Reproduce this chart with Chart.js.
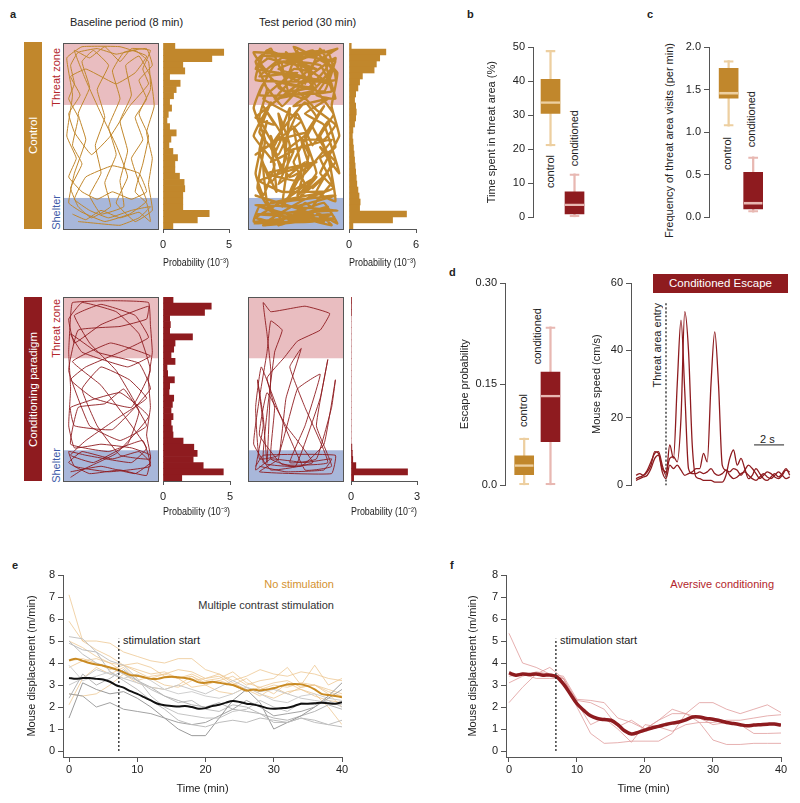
<!DOCTYPE html>
<html>
<head>
<meta charset="utf-8">
<title>Threat zone behaviour</title>
<script src="https://cdn.jsdelivr.net/npm/chart.js@4.4.1/dist/chart.umd.min.js"></script>
<style>
body { margin: 0; width: 800px; height: 803px; position: relative; overflow: hidden; background: #fff;
       font-family: "Liberation Sans", Arial, Helvetica, sans-serif; font-size: 11px; color: #222; }
canvas { position: absolute; }
.t { position: absolute; white-space: nowrap; line-height: 13px; }
.b { font-weight: bold; }
.v { position: absolute; white-space: nowrap; line-height: 13px; writing-mode: vertical-rl; transform: rotate(180deg); }
.bar { position: absolute; width: 18px; writing-mode: vertical-rl; transform: rotate(180deg);
       text-align: center; line-height: 18px; color: #fff; font-size: 11.5px; white-space: nowrap; }
.banner { position: absolute; left: 653px; top: 274px; width: 135px; height: 19px; line-height: 19px;
          background: #8E1B1F; color: #fff; text-align: center; font-size: 11.5px; }
</style>
</head>
<body>

<div class="t b" style="left:10px;top:8px">a</div>
<div class="t" style="left:70px;top:16px">Baseline period (8 min)</div>
<div class="t" style="left:259px;top:16px">Test period (30 min)</div>
<div class="bar" style="left:24px;top:42px;height:187px;background:#C1872C">Control</div>
<div class="bar" style="left:24px;top:297px;height:184px;background:#8E1B1F">Conditioning paradigm</div>
<div class="v" style="left:50px;top:48px;color:#B3262B">Threat zone</div>
<div class="v" style="left:50px;top:195px;color:#3E5BA9">Shelter</div>
<div class="v" style="left:50px;top:299px;color:#B3262B">Threat zone</div>
<div class="v" style="left:50px;top:448px;color:#3E5BA9">Shelter</div>

<div class="t b" style="left:467px;top:8px">b</div>
<div class="v" style="left:544px;top:155px">control</div>
<div class="v" style="left:568px;top:110px">conditioned</div>
<div class="t b" style="left:647px;top:8px">c</div>
<div class="v" style="left:663px;top:43px">Frequency of threat area visits (per min)</div>
<div class="v" style="left:721px;top:137px">control</div>
<div class="v" style="left:745px;top:91px">conditioned</div>

<div class="t b" style="left:449px;top:266px">d</div>
<div class="v" style="left:517px;top:394px">control</div>
<div class="v" style="left:531px;top:308px">conditioned</div>
<div class="banner">Conditioned Escape</div>
<div class="v" style="left:651px;top:303px">Threat area entry</div>
<div class="t" style="left:760px;top:433px">2 s</div>

<div class="t b" style="left:12px;top:559px">e</div>
<div class="t" style="right:466px;top:578px;color:#D4922F">No stimulation</div>
<div class="t" style="right:466px;top:599px;color:#333">Multiple contrast stimulation</div>
<div class="t" style="left:123px;top:634px">stimulation start</div>
<div class="t b" style="left:450px;top:559px">f</div>
<div class="t" style="right:26px;top:578px;color:#B3262B">Aversive conditioning</div>
<div class="t" style="left:560px;top:634px">stimulation start</div>

<script>
// ---------- data ----------
// arena zones (arena units: x 0-50, y 0-100, threat at the top)
const threatZone = [66.7, 100];
const shelterZone = [0, 16.7];

// trajectories, flat x,y pairs
const trackCtrlBase = [5,8, 12,5, 20,10, 30,6, 40,9, 46,4, 44,14, 38,20, 42,35, 45,50, 40,62, 46,75, 45,90, 38,96, 28,94,
  18,97, 8,95, 4,88, 6,78, 3,70, 8,60, 5,45, 10,35, 4,22, 8,12, 15,6, 25,12, 22,25, 28,40, 24,55, 30,70, 26,85, 32,95,
  44,97, 47,88, 40,80, 44,70, 38,60, 42,48, 36,38, 40,25, 44,15, 35,8, 22,4, 10,9, 3,14, 6,30, 12,48, 8,62, 14,76, 10,90,
  16,96, 24,88, 18,75, 22,60, 17,45, 20,30, 14,18, 20,8, 32,12, 30,26, 34,42, 30,58, 36,72, 33,88, 40,93, 46,82, 48,66,
  44,52, 47,38, 45,24, 47,10, 38,4, 28,14, 34,28, 28,45, 20,62, 12,80, 6,96, 14,92, 22,98, 30,90, 36,97, 46,96, 42,86,
  45,78, 35,66, 25,50, 15,40, 6,52, 3,62, 9,72, 4,82, 12,86, 20,82, 28,78, 38,84, 44,93, 30,98, 10,98, 2,92, 5,72, 2,50,
  7,38, 3,28, 10,20, 18,16, 26,20, 36,16, 44,20, 40,30, 26,34, 12,28, 6,16, 14,10, 24,6, 36,10, 46,12, 40,6, 30,2, 18,3, 8,4];
const trackCtrlTest = [3,3, 45,5, 5,8, 47,10, 4,13, 44,2, 30,14, 20,3, 10,15, 8,35, 15,20, 12,50, 18,30, 22,65, 14,45,
  6,60, 10,75, 4,90, 12,97, 20,80, 26,96, 30,78, 38,97, 44,85, 36,72, 46,70, 40,92, 47,97, 30,92, 8,93, 4,80, 46,80,
  42,95, 14,88, 6,72, 44,74, 38,88, 18,90, 22,72, 34,84, 24,86, 16,76, 30,70, 46,90, 3,95, 10,85, 40,80, 28,88, 20,95,
  45,62, 38,50, 44,35, 36,20, 46,15, 42,40, 34,55, 40,66, 30,50, 36,30, 26,18, 32,40, 24,55, 28,30, 18,12, 22,45, 16,62,
  20,38, 12,25, 6,42, 10,58, 4,30, 8,18, 14,35, 3,50, 12,68, 6,52, 16,40, 26,62, 34,45, 42,58, 46,44, 38,38, 44,25, 34,12,
  40,4, 26,8, 14,4, 4,6, 20,16, 30,24, 24,36, 36,60, 30,68, 20,56, 12,44, 22,28, 32,34, 28,48, 40,48, 46,56, 36,64, 26,74,
  18,66, 8,78, 3,65, 9,48, 5,22, 12,10, 25,4, 38,8, 47,3, 40,14, 28,10, 16,8, 6,12, 3,4, 22,6, 44,8, 34,4, 10,4, 30,16,
  45,22, 38,30, 48,50, 44,66, 47,84, 34,96, 22,92, 10,96, 4,86, 16,84, 26,80, 36,90, 44,95, 28,94, 14,94, 6,88, 20,74,
  32,76, 42,88, 24,98, 36,76, 12,80, 40,74, 46,92, 4,60, 14,56, 8,66, 18,50, 12,36, 24,42, 16,24, 30,36, 22,20, 36,28,
  28,18, 42,30, 34,22, 46,36, 38,44, 48,30, 40,56, 30,62, 42,70, 24,66, 34,74, 14,70, 26,84, 6,82, 18,92, 36,86, 10,92,
  40,96, 16,86, 44,78, 22,82, 8,70, 28,58, 4,40, 16,48, 32,52, 20,42, 44,48, 26,26, 10,30, 36,36, 6,26, 18,20, 40,20,
  12,14, 46,18, 24,12, 4,18, 34,8, 16,2, 42,12, 8,2, 28,4, 46,6];
const trackCondBase = [4,5, 20,8, 38,4, 46,10, 40,16, 26,12, 10,16, 3,10, 14,4, 30,6, 44,3, 46,14, 36,18, 20,20, 6,18,
  3,30, 4,50, 3,70, 4,90, 5,97, 25,98, 45,97, 46,85, 47,70, 45,55, 46,40, 44,25, 46,12, 30,14, 18,30, 10,50, 20,62, 35,55,
  44,45, 30,35, 12,22, 4,14, 16,10, 34,20, 40,38, 28,60, 14,75, 6,90, 20,96, 38,90, 45,78, 30,70, 12,62, 4,55, 16,45,
  36,40, 46,60, 40,80, 28,92, 10,97, 3,88, 6,75, 20,85, 45,95, 44,88, 30,84, 8,82, 3,60, 14,30, 30,22, 44,30, 32,50, 22,42,
  8,40, 4,20, 24,16, 42,22, 46,8, 24,5, 6,8, 3,16, 12,14, 36,10, 44,18, 20,52, 5,65, 25,75, 46,68, 34,62, 10,70, 4,80,
  18,70, 40,64, 46,50, 26,28, 6,30, 4,40, 30,48, 45,35, 28,15, 10,6, 4,2];
const trackCondTest = [6,8, 20,5, 40,6, 44,12, 30,10, 12,12, 4,6, 8,30, 5,55, 8,35, 10,10, 12,60, 10,80, 8,97, 12,92,
  30,95, 43,91, 38,82, 26,76, 19,67, 10,56, 14,40, 12,12, 25,8, 38,45, 42,66, 36,30, 44,8, 30,6, 16,38, 7,62, 4,40, 6,12,
  16,14, 26,50, 38,58, 30,30, 22,10, 36,12, 44,40, 46,55, 40,20, 28,8, 8,10, 14,70, 18,82, 12,87, 10,70, 6,45, 3,20, 12,6,
  34,10, 20,30, 10,48, 6,25, 18,9, 42,10, 30,40, 22,62, 28,72, 20,45, 16,12, 6,5, 44,4, 46,14, 8,14, 4,8];

// position histograms, top bin first
const histCtrlBase = [0.9, 4.6, 3.7, 1.5, 1.65, 0.5, 1.3, 1.0, 0.8, 0.5, 0.65, 0.4, 0.3, 0.5, 1.0, 0.6, 0.45, 0.75, 1.1,
  0.9, 0.9, 1.25, 1.6, 1.65, 1.5, 1.5, 1.5, 3.5, 2.6, 0.75];
const histCtrlTest = [0.2, 3.3, 2.75, 2.45, 2.25, 1.2, 0.95, 0.8, 0.6, 0.5, 0.6, 0.65, 0.6, 0.5, 0.35, 0.3, 0.35, 0.4,
  0.45, 0.5, 0.55, 0.6, 0.65, 0.7, 0.8, 0.9, 1.0, 0.95, 5.15, 3.9, 0.35];
const histCondBase = [0.75, 3.6, 3.1, 0.5, 0.55, 0.5, 2.2, 0.9, 0.8, 0.6, 0.9, 0.3, 0.35, 0.85, 0.5, 0.45, 0.8, 0.7,
  0.6, 0.75, 0.6, 0.7, 0.75, 1.5, 2.3, 2.55, 2.25, 3.0, 4.5, 1.4];
const histCondTest = [0.03, 0.02, 0.02, 0, 0, 0, 0, 0, 0, 0, 0, 0, 0, 0, 0, 0, 0, 0, 0, 0, 0, 0, 0, 0, 0.04, 0.06, 0.08,
  0.22, 2.57, 0.12];

// box plots: control, conditioned
const groups = ['control', 'conditioned'];
const timeMin = [21, 0], timeQ1 = [30.5, 1], timeMed = [34, 4], timeQ3 = [40.5, 7.5], timeMax = [49, 12.8];
const freqMin = [1.07, 0.06], freqQ1 = [1.4, 0.1], freqMed = [1.47, 0.18], freqQ3 = [1.75, 0.53], freqMax = [1.84, 0.71];
const escMin = [0, 0], escQ1 = [0.016, 0.065], escMed = [0.031, 0.134], escQ3 = [0.044, 0.168], escMax = [0.07, 0.235];
const timeTicks = [0, 10, 20, 30, 40, 50];
const freqTicks = [0, 0.5, 1, 1.5, 2];
const escTicks = [0, 0.15, 0.3];
const escTickText = ['0.0', '0.15', '0.30'];

// escape speed traces (s relative to threat area entry)
const speedTime = [-2, -1.75, -1.5, -1.25, -1, -0.75, -0.5, -0.25, 0, 0.25, 0.5, 0.75, 1, 1.25, 1.5, 1.75, 2, 2.25, 2.5,
  2.75, 3, 3.25, 3.5, 3.75, 4, 4.25, 4.5, 4.75, 5, 5.25, 5.5, 5.75, 6, 6.25, 6.5, 6.75, 7, 7.25, 7.5, 7.75, 8, 8.25];
const speedA = [2, 2.5, 3, 4.5, 7, 9.5, 10, 6, 3, 12, 8, 30, 49, 28, 5, 3.5, 3.5, 4, 3.5, 4, 5, 3.5, 3, 3.5, 4.5, 3, 2,
  2.5, 3.5, 4, 3, 2, 1.5, 2.5, 3.5, 2.5, 2, 3, 4, 3, 2, 2.5];
const speedB = [1.5, 2, 2.5, 3, 5, 8, 9, 5, 4, 8, 8.5, 7, 20, 51.5, 40, 12, 2.5, 2, 1.5, 1.5, 1.5, 1, 1, 1, 3, 8, 10.5,
  6, 8, 5, 2, 3, 5, 3.5, 2, 1.5, 2.5, 3.5, 2.5, 3.5, 5, 3];
const speedC = [3, 3.5, 3, 4, 6, 10, 9.5, 4, 2, 6, 5, 6, 4.5, 3, 3.5, 4, 5, 5, 9.5, 7, 30, 45.5, 30, 6, 4.5, 4, 5, 4.5,
  3, 4.5, 6, 5, 3.5, 2, 3, 4, 3.5, 2.5, 2, 3, 4.5, 4];
const speedTicks = [0, 20, 40, 60];
const entryTime = 0, entryTop = 54.5;
const scaleBarFrom = 5.87, scaleBarTo = 7.87, scaleBarY = 12;

// displacement over time (m/min)
const minutes = [0, 1, 2, 3, 4, 5, 6, 7, 8, 9, 10, 11, 12, 13, 14, 15, 16, 17, 18, 19, 20, 21, 22, 23, 24, 25, 26, 27,
  28, 29, 30, 31, 32, 33, 34, 35, 36, 37, 38, 39, 40];
const minutes2 = [0, 2, 4, 6, 8, 10, 12, 14, 16, 18, 20, 22, 24, 26, 28, 30, 32, 34, 36, 38, 40];
const noStimMean = [4.12, 4.2, 4.1, 4.0, 3.93, 3.88, 3.8, 3.7, 3.58, 3.45, 3.42, 3.35, 3.28, 3.28, 3.35, 3.38, 3.35, 3.32,
  3.25, 3.12, 3.1, 3.15, 3.1, 3.05, 3.0, 2.88, 2.75, 2.8, 2.75, 2.8, 2.85, 2.95, 3.02, 3.05, 3.03, 2.95, 2.8, 2.6, 2.55, 2.5, 2.45];
const contrastMean = [3.32, 3.28, 3.32, 3.32, 3.28, 3.25, 3.15, 2.98, 2.88, 2.72, 2.6, 2.45, 2.3, 2.15, 2.08, 2.05, 2.02,
  2.05, 2.0, 1.92, 1.95, 2.05, 2.1, 2.2, 2.27, 2.23, 2.15, 2.12, 2.05, 1.95, 1.92, 1.95, 1.97, 2.05, 2.15, 2.15, 2.17, 2.2,
  2.17, 2.15, 2.22];
const noStimMice = [
  [7.1, 5.0, 5.0, 4.9, 4.5, 4.3, 4.1, 4.0, 4.2, 4.2, 3.7, 3.5, 3.2, 3.4, 3.7, 3.5, 3.4, 3.6, 3.5, 3.3, 3.2],
  [5.9, 5.0, 4.6, 4.3, 3.9, 3.7, 3.5, 3.6, 3.3, 3.4, 3.0, 3.2, 3.4, 3.0, 3.2, 3.3, 3.8, 3.0, 3.9, 3.0, 3.3],
  [5.0, 4.7, 4.3, 4.0, 3.6, 3.4, 3.3, 3.0, 2.9, 3.2, 3.3, 3.5, 3.1, 2.8, 2.5, 2.9, 2.6, 2.9, 3.0, 2.6, 2.0],
  [2.1, 3.3, 3.8, 3.5, 3.8, 3.2, 3.4, 3.5, 3.3, 2.9, 3.0, 2.7, 2.6, 2.9, 2.6, 2.4, 2.7, 2.8, 2.6, 2.0, 1.2],
  [3.8, 4.1, 4.2, 4.0, 3.9, 3.6, 3.3, 3.5, 3.7, 3.6, 3.3, 3.4, 3.0, 3.3, 2.8, 3.0, 2.9, 3.1, 3.0, 2.7, 2.5],
  [2.6, 2.5, 2.6, 3.0, 3.5, 3.1, 2.9, 2.8, 3.0, 3.4, 3.1, 3.2, 3.0, 2.7, 2.9, 2.6, 3.1, 2.8, 2.5, 2.3, 2.2],
  [4.1, 4.2, 4.0, 3.7, 3.9, 4.0, 3.8, 3.4, 3.3, 3.5, 3.2, 3.3, 3.6, 3.1, 2.9, 3.1, 3.2, 2.9, 3.0, 2.8, 2.6]
];
const contrastMice = [
  [5.2, 5.1, 4.5, 4.1, 3.9, 3.3, 2.5, 2.0, 1.7, 1.6, 1.5, 1.5, 1.8, 1.9, 2.3, 2.0, 1.8, 2.2, 2.1, 2.3, 2.0],
  [4.9, 4.6, 4.5, 3.6, 3.2, 2.8, 2.3, 1.9, 1.4, 1.2, 1.1, 1.3, 1.4, 1.3, 1.5, 1.4, 1.3, 1.5, 1.4, 1.2, 1.1],
  [1.5, 3.1, 2.8, 2.6, 2.7, 2.4, 2.0, 1.5, 1.0, 0.7, 0.7, 1.5, 2.3, 2.8, 2.2, 1.0, 1.3, 1.6, 2.0, 2.5, 3.1],
  [2.6, 2.5, 2.0, 2.2, 1.9, 1.8, 1.7, 1.5, 1.3, 1.2, 1.3, 1.6, 1.9, 2.3, 2.0, 1.6, 1.7, 1.8, 2.0, 2.4, 2.8],
  [3.9, 3.2, 3.4, 3.6, 3.3, 3.5, 3.2, 2.8, 2.6, 2.7, 2.5, 2.4, 2.6, 2.9, 2.6, 2.3, 2.2, 2.5, 2.6, 2.4, 2.3],
  [3.0, 3.3, 3.7, 3.5, 3.3, 3.1, 2.9, 2.8, 3.0, 2.8, 2.6, 2.9, 3.2, 2.9, 2.7, 2.8, 2.6, 2.4, 2.3, 2.2, 2.1],
  [2.4, 3.5, 3.0, 3.3, 3.7, 3.2, 2.9, 2.5, 2.3, 2.1, 2.0, 2.2, 1.9, 1.8, 1.7, 1.5, 1.4, 1.6, 1.8, 2.1, 1.9],
  [5.0, 4.4, 4.0, 3.8, 3.5, 3.2, 2.8, 2.5, 2.2, 2.3, 1.9, 1.8, 2.1, 2.0, 1.7, 1.3, 1.3, 1.5, 1.3, 1.2, 1.4]
];
const aversiveMean = [3.55, 3.45, 3.5, 3.48, 3.5, 3.45, 3.45, 3.38, 3.05, 2.6, 2.15, 1.85, 1.6, 1.48, 1.43, 1.4, 1.2, 0.92,
  0.78, 0.85, 0.95, 1.05, 1.12, 1.2, 1.27, 1.32, 1.42, 1.55, 1.55, 1.48, 1.45, 1.38, 1.3, 1.25, 1.2, 1.15, 1.18, 1.2, 1.22,
  1.23, 1.18];
const aversiveMice = [
  [5.35, 4.0, 3.8, 3.5, 3.4, 2.35, 2.3, 2.2, 1.5, 1.3, 1.0, 1.4, 1.7, 1.7, 2.2, 2.2, 1.9, 1.7, 1.9, 2.1, 1.75],
  [3.1, 3.4, 3.6, 3.5, 3.3, 2.3, 2.2, 1.9, 1.1, 1.4, 1.0, 1.4, 1.9, 1.7, 1.3, 1.3, 1.4, 1.4, 1.5, 1.6, 1.65],
  [2.2, 2.9, 3.5, 3.8, 3.3, 2.2, 1.2, 1.5, 1.0, 0.4, 1.2, 1.1, 0.9, 1.2, 1.3, 0.5, 0.3, 0.3, 0.35, 0.35, 0.35],
  [3.4, 3.5, 3.3, 3.3, 3.3, 2.0, 0.8, 0.35, 0.38, 0.45, 0.45, 0.45, 0.8, 1.7, 1.5, 1.2, 1.3, 1.2, 0.8, 0.8, 0.82]
];
const timeTicksMin = [0, 10, 20, 30, 40];
const dispTicks = [0, 1, 2, 3, 4, 5, 6, 7, 8];
const stimStartE = 7.3, stimStartF = 6.9, stimTop = 5.1;

// ---------- style ----------
const GOLD = '#C1872C', GOLD_LT = '#EDCFA0', RED = '#8E1B1F', RED_LT = '#E8B8B2';
const PINK = '#E9BDC0', BLUE = '#A8B7DA', AXIS = '#555';

Chart.defaults.font.family = '"Liberation Sans", Arial, Helvetica, sans-serif';
Chart.defaults.font.size = 11;
Chart.defaults.color = '#222';
Chart.defaults.animation = false;
Chart.defaults.responsive = false;
Chart.defaults.devicePixelRatio = 1;
Chart.defaults.plugins.legend.display = false;
Chart.defaults.plugins.tooltip.enabled = false;

function canvasAt(left, top, w, h) {
  const c = document.createElement('canvas');
  c.width = w; c.height = h;
  c.style.left = left + 'px'; c.style.top = top + 'px';
  document.body.appendChild(c);
  return c;
}
function pairs(flat) {
  const out = [];
  for (let i = 0; i < flat.length; i += 2) out.push({x: flat[i], y: flat[i + 1]});
  return out;
}
function xy(xs, ys) { return ys.map((v, i) => ({x: xs[i], y: v})); }
const ticksAt = arr => s => { s.ticks = arr.map(v => ({value: v})); };
const tickGrid = len => ({display: true, drawOnChartArea: false, drawTicks: true, tickLength: len, color: AXIS});

// pink threat zone and blue shelter behind the track
const zonePlugin = {
  id: 'zones',
  beforeDraw(chart) {
    const {ctx, chartArea: a, scales: {y}} = chart;
    [[threatZone, PINK], [shelterZone, BLUE]].forEach(([range, color]) => {
      const top = y.getPixelForValue(range[1]), bottom = y.getPixelForValue(range[0]);
      ctx.save();
      ctx.fillStyle = color;
      ctx.fillRect(a.left, top, a.right - a.left, bottom - top);
      ctx.restore();
    });
  }
};

function arenaChart(el, track, color, width) {
  const frame = (pos, extra) => Object.assign({
    type: 'linear', position: pos,
    grid: {display: false}, ticks: {display: false},
    border: {display: true, color: AXIS, width: 1},
    afterFit: s => { if (s.isHorizontal()) s.height = 0; else s.width = 0; }
  }, extra);
  return new Chart(el, {
    type: 'scatter',
    data: {datasets: [{data: pairs(track), showLine: true, borderColor: color, borderWidth: width,
      pointRadius: 0, tension: 0.1}]},
    options: {
      layout: {padding: 1},
      scales: {
        x: frame('bottom', {min: 0, max: 50}),
        xTop: frame('top', {axis: 'x', min: 0, max: 50}),
        y: frame('left', {min: 0, max: 100}),
        yRight: frame('right', {axis: 'y', min: 0, max: 100})
      }
    },
    plugins: [zonePlugin]
  });
}

function histChart(el, vals, max, color, title, padL, padR, axisH, tickPad) {
  return new Chart(el, {
    type: 'bar',
    data: {labels: vals.map((v, i) => i),
      datasets: [{data: vals, backgroundColor: color, barPercentage: 1, categoryPercentage: 1, borderWidth: 0}]},
    options: {
      indexAxis: 'y',
      layout: {padding: {left: padL, right: padR, top: 0, bottom: 0}},
      scales: {
        y: {display: false},
        x: {type: 'linear', min: 0, max: max, afterBuildTicks: ticksAt([0, max]),
          grid: tickGrid(4), border: {color: AXIS}, ticks: {padding: tickPad, maxRotation: 0},
          title: {display: true, text: title, padding: {top: 2, bottom: 4}},
          afterFit: s => { s.height = axisH; }}
      }
    }
  });
}

function boxChart(el, mn, q1, med, q3, mx, yMax, ticks, tickFmt, title, axisW, xMin, xMax, padR) {
  const pos = [1, 2];
  const span = (lo, hi) => lo.map((v, i) => ({x: pos[i], y: [v, hi[i]]}));
  return new Chart(el, {
    type: 'bar',
    data: {datasets: [
      {data: span(q1, med), backgroundColor: 'rgba(0,0,0,0)', borderColor: [GOLD_LT, RED_LT],
        borderWidth: {top: 2, bottom: 0, left: 0, right: 0}, borderSkipped: false, barThickness: 19},
      {data: span(q1, q3), backgroundColor: [GOLD, RED], barThickness: 19},
      {data: span(mn, mx), backgroundColor: [GOLD_LT, RED_LT], barThickness: 1.6},
      {data: span(mn, mx), backgroundColor: 'rgba(0,0,0,0)', borderColor: [GOLD_LT, RED_LT],
        borderWidth: {top: 1.6, bottom: 1.6, left: 0, right: 0}, borderSkipped: false, barThickness: 10}
    ]},
    options: {
      datasets: {bar: {grouped: false}},
      layout: {padding: {top: 10, bottom: 6, left: 0, right: padR}},
      scales: {
        x: {type: 'linear', min: xMin, max: xMax, offset: false, display: false},
        y: {min: 0, max: yMax, afterBuildTicks: ticksAt(ticks), grid: tickGrid(5), border: {color: AXIS},
          ticks: {padding: 3, callback: tickFmt},
          title: {display: !!title, text: title},
          afterFit: s => { s.width = axisW; }}
      }
    }
  });
}

// ---------- panel a ----------
arenaChart(canvasAt(62, 42, 97, 188), trackCtrlBase, GOLD, 1.0);
arenaChart(canvasAt(247, 42, 97, 188), trackCtrlTest, GOLD, 2.4);
arenaChart(canvasAt(62, 296, 97, 186), trackCondBase, RED, 0.9);
arenaChart(canvasAt(247, 296, 97, 186), trackCondTest, RED, 0.9);

histChart(canvasAt(150, 43, 100, 231), histCtrlBase, 5, GOLD, 'Probability (10⁻³)', 13, 21, 45, 5);
histChart(canvasAt(336, 43, 100, 231), histCtrlTest, 6, GOLD, 'Probability (10⁻³)', 13, 20, 45, 5);
histChart(canvasAt(150, 297, 100, 226), histCondBase, 5, RED, 'Probability (10⁻³)', 13, 20, 42, 5);
histChart(canvasAt(338, 297, 100, 226), histCondTest, 3, RED, 'Probability (10⁻²)', 13, 21, 42, 5);

// ---------- panels b, c, d ----------
boxChart(canvasAt(481, 37, 116, 190), timeMin, timeQ1, timeMed, timeQ3, timeMax, 50, timeTicks,
  v => v, 'Time spent in threat area (%)', 52, 0.27, 2.52, 10);
boxChart(canvasAt(659, 37, 114, 190), freqMin, freqQ1, freqMed, freqQ3, freqMax, 2, freqTicks,
  v => v.toFixed(1), '', 50, 0.2, 2.4, 10);
boxChart(canvasAt(454, 273, 112, 222), escMin, escQ1, escMed, escQ3, escMax, 0.3, escTicks,
  (v, i) => escTickText[i], 'Escape probability', 51, 0.27, 2.4, 5);

new Chart(canvasAt(586, 273, 210, 222), {
  type: 'scatter',
  data: {datasets: [
    {data: xy(speedTime, speedA), borderColor: RED, borderWidth: 1.3},
    {data: xy(speedTime, speedB), borderColor: RED, borderWidth: 1.3},
    {data: xy(speedTime, speedC), borderColor: RED, borderWidth: 1.3},
    {data: [{x: entryTime, y: 0}, {x: entryTime, y: entryTop}], borderColor: '#111', borderWidth: 1.2, borderDash: [2, 2]},
    {data: [{x: scaleBarFrom, y: scaleBarY}, {x: scaleBarTo, y: scaleBarY}], borderColor: '#222', borderWidth: 1}
  ]},
  options: {
    datasets: {scatter: {showLine: true, pointRadius: 0, cubicInterpolationMode: 'monotone'}},
    layout: {padding: {top: 10, bottom: 6, left: 0, right: 4}},
    scales: {
      x: {type: 'linear', min: -2.333, max: 8.4, display: false},
      y: {min: 0, max: 60, afterBuildTicks: ticksAt(speedTicks), grid: tickGrid(5), border: {color: AXIS},
        ticks: {padding: 3}, title: {display: true, text: 'Mouse speed (cm/s)'},
        afterFit: s => { s.width = 45; }}
    }
  }
});

// ---------- panels e, f ----------
function displacementChart(el, datasets, stim, axisW, xMin, padR) {
  datasets.unshift({data: [{x: stim, y: 0}, {x: stim, y: stimTop}], borderColor: '#111', borderWidth: 1.2,
    borderDash: [2, 2], tension: 0});
  return new Chart(el, {
    type: 'scatter',
    data: {datasets: datasets},
    options: {
      datasets: {scatter: {showLine: true, pointRadius: 0}},
      layout: {padding: {top: 10, bottom: 0, left: 0, right: padR}},
      scales: {
        x: {type: 'linear', min: xMin, max: 40, afterBuildTicks: ticksAt(timeTicksMin), grid: tickGrid(5),
          border: {color: AXIS}, ticks: {padding: 1, maxRotation: 0},
          title: {display: true, text: 'Time (min)', padding: {top: 2, bottom: 4}},
          afterFit: s => { s.height = 43; }},
        y: {min: -0.27, max: 8, afterBuildTicks: ticksAt(dispTicks), grid: tickGrid(5), border: {color: AXIS},
          ticks: {padding: 3}, title: {display: true, text: 'Mouse displacement (m/min)'},
          afterFit: s => { s.width = axisW; }}
      }
    }
  });
}

const grayShades = ['#C4C4C4', '#BDBDBD', '#9A9A9A', '#A3A3A3', '#CFCFCF', '#C9C9C9', '#B5B5B5', '#C0C0C0'];
const eSets = [
  {data: xy(minutes, noStimMean), borderColor: '#C98A22', borderWidth: 2, tension: 0.3},
  {data: xy(minutes, contrastMean), borderColor: '#111', borderWidth: 2, tension: 0.3}
];
contrastMice.forEach((m, i) => eSets.push({data: xy(minutes2, m), borderColor: grayShades[i], borderWidth: 1}));
noStimMice.forEach(m => eSets.push({data: xy(minutes2, m), borderColor: 'rgba(236,196,140,0.75)', borderWidth: 1}));
displacementChart(canvasAt(21, 565, 331, 235), eSets, stimStartE, 42, -0.88, 10);

const fSets = [{data: xy(minutes, aversiveMean), borderColor: RED, borderWidth: 3.5, tension: 0.35}];
aversiveMice.forEach(m => fSets.push({data: xy(minutes2, m), borderColor: 'rgba(222,150,150,0.75)', borderWidth: 1}));
displacementChart(canvasAt(462, 565, 329, 235), fSets, stimStartF, 44, -0.44, 10);
</script>
</body>
</html>
